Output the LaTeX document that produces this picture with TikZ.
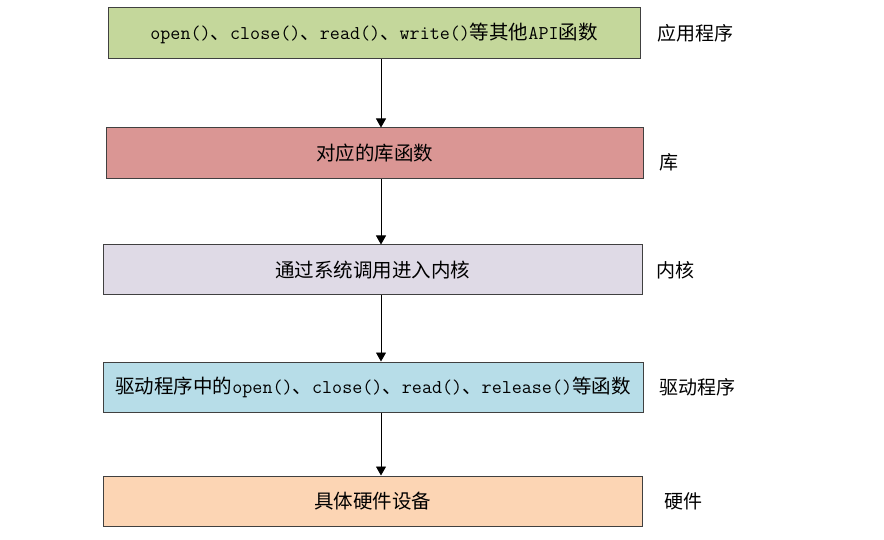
\documentclass[tikz,border=0pt]{standalone}
\usepackage{fontspec}
\setmainfont{Noto Sans CJK SC}
\usepackage{xcolor}
\usepackage{tikz}
\usetikzlibrary{arrows.meta,positioning}

\definecolor{appgreen}{HTML}{C4D79B}
\definecolor{libred}{HTML}{DA9694}
\definecolor{kernpurple}{HTML}{DFDAE6}
\definecolor{drvblue}{HTML}{B7DDE8}
\definecolor{hworange}{HTML}{FCD5B4}
\definecolor{edgegray}{HTML}{404040}

\begin{document}
\begin{tikzpicture}[x=1pt,y=-1pt,
  every node/.style={font=\fontsize{19.5}{22}\selectfont},
  layer/.style={draw=edgegray,line width=1pt,inner sep=0pt,minimum height=51pt},
  side/.style={anchor=west,font=\fontsize{19}{22}\selectfont},
  flow/.style={-{Triangle[width=10pt,length=9pt]},line width=0.8pt}]
  \useasboundingbox (0,0) rectangle (884,540);
  \node[layer,fill=appgreen,minimum width=532pt]   (app)  at (374,33.5) {\texttt{open()}、\texttt{close()}、\texttt{read()}、\texttt{write()}等其他\texttt{API}函数};
  \node[layer,fill=libred,minimum width=537pt]     (lib)  at (374.5,153.5) {对应的库函数};
  \node[layer,fill=kernpurple,minimum width=539pt,minimum height=50pt] (kern) at (372.5,270) {通过系统调用进入内核};
  \node[layer,fill=drvblue,minimum width=540pt,minimum height=50pt]    (drv)  at (373,387) {驱动程序中的\texttt{open()}、\texttt{close()}、\texttt{read()}、\texttt{release()}等函数};
  \node[layer,fill=hworange,minimum width=539pt,minimum height=50pt]   (hw)   at (372.5,501) {具体硬件设备};
  % labels on the right
  \node[side] (appl)  at (654,33)  {应用程序};
  \node[side] (libl)  at (656,162) {库};
  \node[side] (kernl) at (653,270) {内核};
  \node[side] (drvl)  at (656,387) {驱动程序};
  \node[side] (hwl)   at (661,501) {硬件};
  % arrows
  \coordinate (ax) at (381,0);
  \draw[flow] (app.south -| ax) -- (lib.north -| ax);
  \draw[flow] (lib.south -| ax) -- (kern.north -| ax);
  \draw[flow] (kern.south -| ax) -- (drv.north -| ax);
  \draw[flow] (drv.south -| ax) -- (hw.north -| ax);
\end{tikzpicture}
\end{document}
